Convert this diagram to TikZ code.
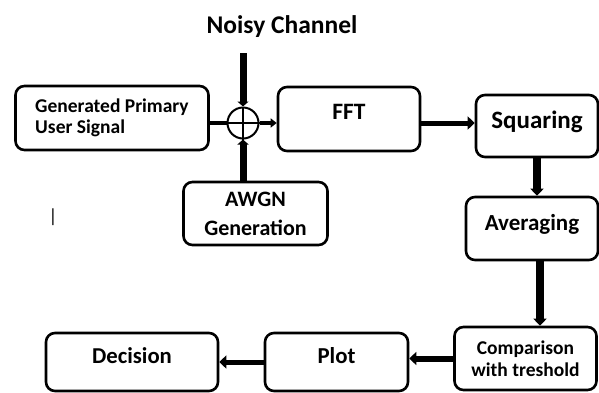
\documentclass[tikz,border=0pt]{standalone}
\usepackage{fontspec}
\setmainfont{Carlito}
\usetikzlibrary{arrows.meta}
\begin{document}
\begin{tikzpicture}[x=1pt,y=-1pt,
  box/.style={draw, line width=2.6pt, rounded corners=9pt, inner sep=0pt, align=center},
  fs/.style={font=\fontsize{#1}{#1}\selectfont\bfseries},
  conn/.style={line width=#1, -{Triangle[length=7pt,width=13pt]}},
  plainline/.style={line width=#1},
]
\useasboundingbox (0,0) rectangle (599,392);
% title and stray mark
\node[fs=25.5] (nc) at (282,27) {Noisy Channel};
\node[font=\fontsize{19}{19}\selectfont] (stray) at (53,217) {|};
% boxes
\node[box, minimum width=193pt, minimum height=64pt, align=left, font=\fontsize{19.5}{21}\selectfont\bfseries] (gen) at (112,118) {Generated Primary\\User Signal};
\node[box, fs=23.5, minimum width=142pt, minimum height=64pt, text height=15pt, text depth=14pt] (fft) at (349,119) {FFT};
\node[box, fs=25, minimum width=122pt, minimum height=62pt, text height=16pt, text depth=12pt] (sq) at (537,126) {Squaring};
\node[box, fs=23, minimum width=132pt, minimum height=63pt, text height=15pt, text depth=12pt] (av) at (532,228.5) {Averaging};
\node[box, minimum width=144pt, minimum height=63pt, font=\fontsize{22}{29}\selectfont\bfseries] (awgn) at (255.5,213.5) {AWGN\\Generation};
\node[box, minimum width=142pt, minimum height=63pt, font=\fontsize{19.5}{22}\selectfont\bfseries] (comp) at (525.5,358.5) {Comparison\\with treshold};
\node[box, fs=22.8, minimum width=143pt, minimum height=58pt, text height=15pt, text depth=12pt] (plot) at (336.5,362) {Plot};
\node[box, fs=22.7, minimum width=172pt, minimum height=58pt, text height=15pt, text depth=12pt] (dec) at (132,362) {Decision};
% summing junction
\node[draw, circle, line width=2pt, minimum size=31pt, inner sep=0pt] (sum) at (243,123) {};
\draw[plainline=2pt] (sum.west) -- (sum.east);
\draw[plainline=2pt] (sum.north) -- (sum.south);
\coordinate (nctop) at (243,53);
% connectors
\draw[line width=7pt, -{Triangle[length=5pt,width=11pt]}] (nctop) -- (sum.north);
\draw[line width=7pt, -{Triangle[length=5pt,width=11pt]}] (sum.south |- awgn.north) -- (sum.south);
\draw[plainline=3.5pt] (gen.east |- sum.west) -- (sum.west);
\draw[line width=3.5pt, -{Triangle[length=6pt,width=9pt]}] (sum.east) -- (fft.west |- sum.east);
\draw[conn=5pt] (fft.east |- 0,123) -- (sq.west |- 0,123);
\draw[conn=8pt] (sq.south) -- (sq.south |- av.north);
\draw[conn=8pt] (540,0 |- av.south) -- (540,0 |- comp.north);
\draw[conn=6pt] (comp.west) -- (comp.west -| plot.east);
\draw[conn=5pt] (plot.west) -- (dec.east);
\end{tikzpicture}
\end{document}
